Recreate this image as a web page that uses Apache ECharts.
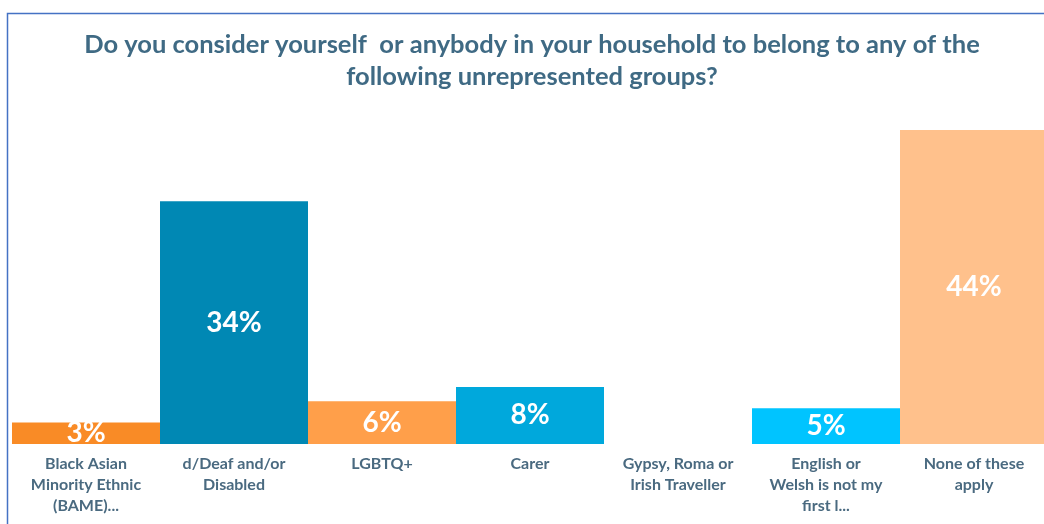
<!DOCTYPE html>
<html>
<head>
<meta charset="utf-8">
<script src="https://cdn.jsdelivr.net/npm/echarts@6/dist/echarts.min.js"></script>
<style>
html,body{margin:0;padding:0;background:#fff;overflow:hidden;}
#chart{width:1048px;height:524px;}
</style>
</head>
<body>
<div id="chart"></div>
<script>
var titleText = 'Do you consider yourself  or anybody in your household to belong to any of the\nfollowing unrepresented groups?';
var categories = [
  'Black Asian\nMinority Ethnic\n(BAME)...',
  'd/Deaf and/or\nDisabled',
  'LGBTQ+',
  'Carer',
  'Gypsy, Roma or\nIrish Traveller',
  'English or\nWelsh is not my\nfirst l...',
  'None of these\napply'
];
var values = [3, 34, 6, 8, 0, 5, 44];
var barColors = ['#F98B26', '#0088B4', '#FF9F4A', '#00A8DC', '#00C4FF', '#00C4FF', '#FFC18C'];

var chart = echarts.init(document.getElementById('chart'));
chart.setOption({
  animation: false,
  backgroundColor: '#ffffff',
  title: {
    text: titleText,
    left: 527,
    textAlign: 'center',
    top: 24,
    textStyle: {
      fontFamily: 'Lato',
      fontWeight: 'bold',
      fontSize: 25.5,
      lineHeight: 32,
      color: '#3F6A84'
    }
  },
  graphic: [{
    type: 'rect',
    shape: {x: 7.5, y: 13.5, width: 1100, height: 600},
    style: {fill: 'none', stroke: '#4472C4', lineWidth: 1.5},
    silent: true
  }],
  grid: {left: 12, right: 0, top: 130, height: 314, containLabel: false},
  xAxis: {
    type: 'category',
    data: categories,
    axisLine: {show: false},
    axisTick: {show: false},
    axisLabel: {
      interval: 0,
      margin: 9,
      fontFamily: 'Lato',
      fontWeight: 'bold',
      fontSize: 16,
      lineHeight: 21,
      color: '#4A6A80'
    }
  },
  yAxis: {
    type: 'value',
    min: 0,
    max: 44,
    show: false,
    splitLine: {show: false}
  },
  series: [{
    type: 'bar',
    barWidth: '100%',
    barCategoryGap: '0%',
    data: values.map(function (v, i) {
      return {value: v, itemStyle: {color: barColors[i]}};
    }),
    label: {
      show: true,
      position: 'inside',
      formatter: function (p) { return p.value ? p.value + '%' : ''; },
      fontFamily: 'Lato',
      fontWeight: 'bold',
      fontSize: 28,
      color: '#ffffff'
    }
  }]
});
</script>
</body>
</html>
